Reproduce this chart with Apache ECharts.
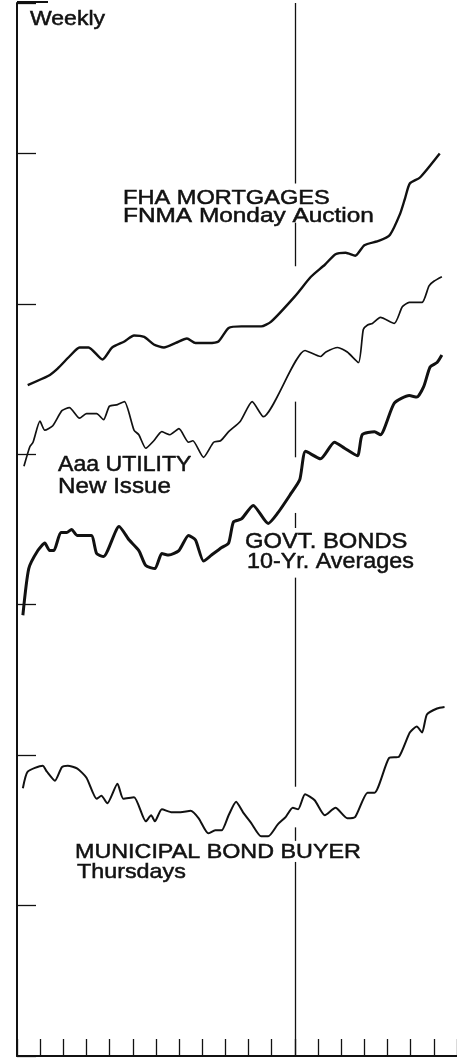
<!DOCTYPE html>
<html>
    <head>
        <meta charset="utf-8">
        <title>Weekly yields</title>
        <script src="https://cdn.jsdelivr.net/npm/echarts@6/dist/echarts.min.js"></script>
        <style>
            html, body { margin: 0; padding: 0; background: #fff; }
        </style>
    </head>
    <body>
        <div id="chart1" style="width: 457px;height: 1058px"></div>
    </body>

    <script type="text/javascript">
        // [week, yield], week 0 = start of first year
        var fhaMortgages = [
            [2.0,8.46],[5.8,8.52],[7.6,8.57],[9.8,8.65],[11.7,8.71],[13.4,8.71],[16.0,8.63],[17.8,8.71],
            [20.1,8.75],[21.9,8.79],[23.8,8.78],[25.6,8.73],[27.5,8.71],[29.7,8.74],[31.8,8.77],[33.4,8.74],
            [35.8,8.74],[37.7,8.75],[39.6,8.84],[42.0,8.85],[45.7,8.85],[47.5,8.88],[52.0,9.05],[55.0,9.18],
            [57.6,9.26],[59.6,9.33],[61.5,9.34],[63.3,9.32],[65.0,9.39],[67.8,9.42],[69.8,9.46],[71.7,9.60],
            [72.6,9.70],[73.5,9.80],[75.4,9.84],[79.1,10.00]
        ];
        var aaaUtility = [
            [1.3,7.92],[2.4,8.05],[3.0,8.08],[4.3,8.22],[5.2,8.16],[6.7,8.19],[8.4,8.29],[9.8,8.31],
            [11.7,8.24],[13.0,8.27],[14.9,8.27],[16.2,8.23],[17.3,8.32],[18.8,8.33],[20.1,8.35],[21.9,8.16],
            [22.8,8.13],[24.1,8.04],[25.6,8.09],[27.1,8.15],[28.6,8.13],[30.3,8.17],[32.1,8.08],[32.9,8.09],
            [34.9,7.98],[36.8,8.08],[38.1,8.09],[39.6,8.15],[41.8,8.22],[44.0,8.35],[46.1,8.25],[53.9,8.69],
            [56.8,8.65],[57.8,8.68],[60.0,8.71],[61.8,8.68],[63.9,8.61],[64.8,8.83],[65.6,8.86],[66.5,8.87],
            [68.0,8.91],[70.6,8.87],[72.1,8.98],[73.4,9.01],[75.8,9.01],[77.1,9.12],[78.0,9.15],[79.5,9.18]
        ];
        var govtBonds = [
            [1.1,6.93],[2.2,7.24],[3.9,7.36],[5.2,7.41],[6.1,7.36],[6.9,7.36],[8.2,7.48],[9.3,7.48],
            [10.2,7.50],[11.3,7.46],[13.9,7.46],[14.9,7.34],[16.2,7.32],[19.1,7.52],[21.0,7.43],[22.8,7.36],
            [24.1,7.26],[25.8,7.24],[27.1,7.34],[28.4,7.33],[30.3,7.36],[32.1,7.46],[33.4,7.43],[34.9,7.29],
            [36.4,7.33],[38.3,7.38],[39.6,7.41],[40.5,7.55],[42.0,7.57],[44.2,7.66],[47.0,7.54],[48.8,7.61],
            [51.1,7.73],[52.9,7.83],[54.0,8.02],[56.8,7.97],[59.4,8.08],[61.3,8.04],[63.7,7.99],[64.6,8.13],
            [66.9,8.15],[68.0,8.13],[70.6,8.34],[73.4,8.39],[74.8,8.38],[76.1,8.45],[77.3,8.58],[78.6,8.61],
            [79.5,8.66]
        ];
        var municipal = [
            [1.1,5.78],[2.0,5.89],[4.8,5.93],[5.6,5.89],[7.1,5.83],[8.4,5.92],[9.5,5.93],[11.3,5.91],
            [13.0,5.85],[14.9,5.71],[15.8,5.73],[16.9,5.68],[18.8,5.81],[19.9,5.71],[21.9,5.72],[24.1,5.56],
            [25.1,5.60],[25.8,5.56],[27.1,5.64],[29.0,5.62],[30.6,5.62],[32.5,5.63],[34.0,5.58],[35.8,5.48],
            [37.1,5.50],[38.3,5.50],[39.6,5.60],[41.0,5.69],[42.3,5.62],[43.8,5.55],[45.7,5.46],[47.0,5.46],
            [48.8,5.54],[50.3,5.59],[51.6,5.65],[52.6,5.64],[53.9,5.74],[55.7,5.70],[57.6,5.60],[59.6,5.65],
            [61.8,5.58],[63.3,5.59],[65.6,5.75],[66.9,5.75],[69.6,5.98],[71.5,5.99],[73.5,6.15],[74.8,6.19],
            [75.8,6.15],[76.7,6.27],[78.6,6.31],[80.0,6.32]
        ];

        // axis: yield ticks 4..11, month ticks every 52/12 weeks
        var yMin = 4, yMax = 11, yStep = 1;
        var weeksPerMonth = 52 / 12;
        var monthsShown = 19;
        var yearBreak = 52;
        // pieces of the year-end rule (yield units), gaps left for the labels
        var dividerSegments = [
            [11.0, 9.80], [9.54, 9.25], [8.35, 7.98], [7.61, 7.51],
            [7.18, 5.79], [5.52, 5.43], [5.29, 4.0]
        ];

        var ink = '#111';
        var fontName = 'Liberation Sans, Arial, sans-serif';

        function label(text, x, y, size, sx) {
            return {
                type: 'text', x: x, y: y, scaleX: sx, silent: true,
                style: {
                    text: text, x: 0, y: 0, fill: ink, stroke: ink, lineWidth: 0.5,
                    font: size + 'px ' + fontName, verticalAlign: 'middle'
                }
            };
        }

        function lineSeries(name, data, width) {
            return {
                name: name, type: 'line', data: data, showSymbol: false, smooth: 0.2,
                lineStyle: { color: ink, width: width }, silent: true
            };
        }

        var myChart1 = echarts.init(document.getElementById('chart1'));

        var fhaSeries = lineSeries('FHA', fhaMortgages, 2.4);
        fhaSeries.markLine = {
            symbol: 'none', silent: true, label: { show: false },
            lineStyle: { color: ink, width: 1.3, type: 'solid' },
            data: dividerSegments.map(function (s) {
                return [{ coord: [yearBreak, s[0]] }, { coord: [yearBreak, s[1]] }];
            })
        };

        myChart1.setOption({
            animation: false,
            backgroundColor: '#fff',
            grid: { left: 17, right: -3, top: 3, bottom: 2 },
            xAxis: {
                type: 'value', min: 0, max: weeksPerMonth * monthsShown, interval: weeksPerMonth,
                axisLine: { lineStyle: { color: ink, width: 2 } },
                axisTick: { inside: true, length: 17, lineStyle: { color: ink, width: 1.3 } },
                axisLabel: { show: false },
                splitLine: { show: false }
            },
            yAxis: {
                type: 'value', min: yMin, max: yMax, interval: yStep,
                axisLine: { show: true, lineStyle: { color: ink, width: 2 } },
                axisTick: { show: true, inside: true, length: 19, lineStyle: { color: ink, width: 1.3 } },
                axisLabel: { show: false },
                splitLine: { show: false }
            },
            graphic: [
                { type: 'line', silent: true, shape: { x1: 17, y1: 2, x2: 48, y2: 2 }, style: { stroke: ink, lineWidth: 2 } },
                label('Weekly', 30, 19, 20, 1.15),
                label('FHA MORTGAGES', 123, 198, 20, 1.18),
                label('FNMA Monday Auction', 123, 216, 20, 1.22),
                label('Aaa UTILITY', 58, 465, 22, 1.05),
                label('New Issue', 58, 487, 22, 1.1),
                label('GOVT. BONDS', 245, 541.5, 22, 1.08),
                label('10-Yr. Averages', 247, 562, 22, 1.06),
                label('MUNICIPAL BOND BUYER', 75, 852.5, 21, 1.11),
                label('Thursdays', 77, 872.5, 21, 1.11)
            ],
            series: [
                fhaSeries,
                lineSeries('Aaa Utility', aaaUtility, 1.7),
                lineSeries('Govt Bonds', govtBonds, 3),
                lineSeries('Municipal', municipal, 2)
            ]
        });
    </script>
</html>
